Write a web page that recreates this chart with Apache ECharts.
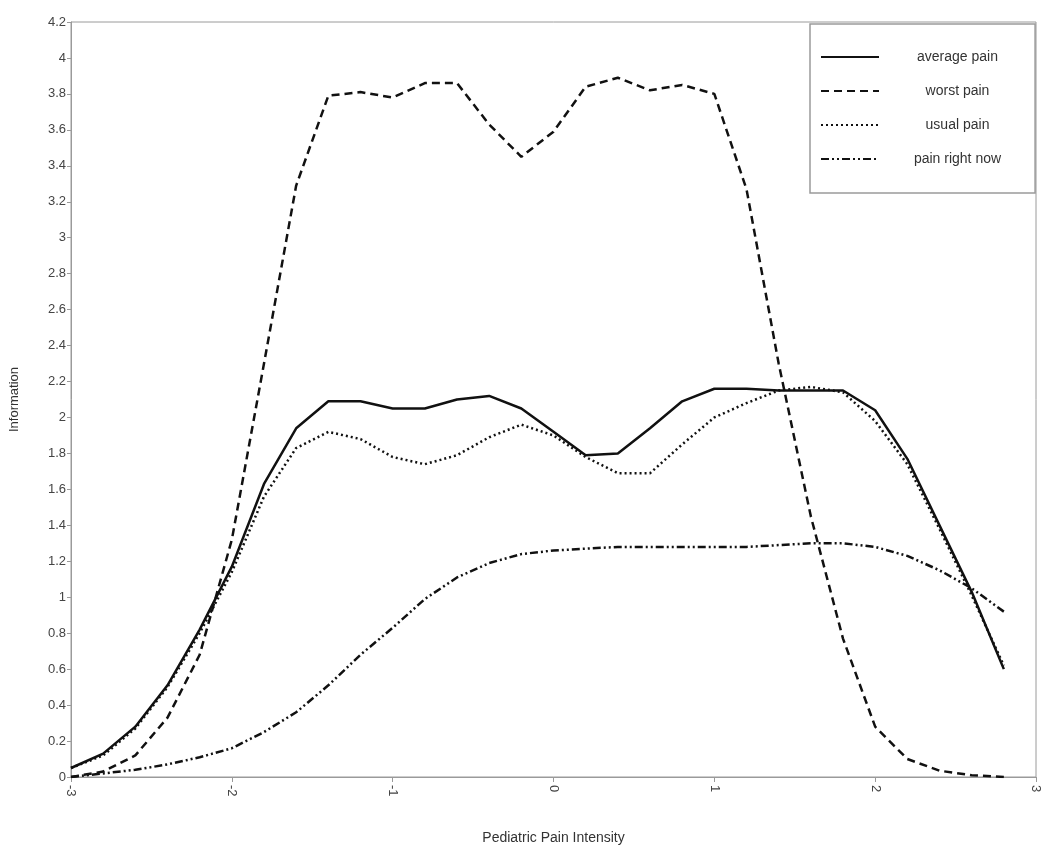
<!DOCTYPE html>
<html>
<head>
<meta charset="utf-8">
<script src="https://cdn.jsdelivr.net/npm/echarts@6/dist/echarts.min.js"></script>
<style>html,body{margin:0;padding:0;background:#fff;}#chart{width:1050px;height:850px;}</style>
</head>
<body>
<div id="chart"></div>
<script>
const xs = [-3,-2.8,-2.6,-2.4,-2.2,-2,-1.8,-1.6,-1.4,-1.2,-1,-0.8,-0.6,-0.4,-0.2,0,0.2,0.4,0.6,0.8,1,1.2,1.4,1.6,1.8,2,2.2,2.4,2.6,2.8];
const averagePain = [0.05,0.13,0.28,0.51,0.82,1.17,1.63,1.94,2.09,2.09,2.05,2.05,2.10,2.12,2.05,1.92,1.79,1.80,1.94,2.09,2.16,2.16,2.15,2.15,2.15,2.04,1.77,1.40,1.03,0.60];
const worstPain = [0.0,0.03,0.12,0.33,0.68,1.32,2.30,3.29,3.79,3.81,3.78,3.86,3.86,3.63,3.45,3.59,3.84,3.89,3.82,3.85,3.80,3.27,2.30,1.45,0.77,0.28,0.10,0.035,0.01,0.0];
const usualPain = [0.05,0.12,0.27,0.50,0.80,1.14,1.56,1.83,1.92,1.88,1.78,1.74,1.79,1.89,1.96,1.90,1.78,1.69,1.69,1.85,2.00,2.08,2.15,2.17,2.14,1.98,1.74,1.38,1.01,0.62];
const painRightNow = [0.0,0.02,0.04,0.07,0.11,0.16,0.25,0.36,0.51,0.68,0.83,0.99,1.11,1.19,1.24,1.26,1.27,1.28,1.28,1.28,1.28,1.28,1.29,1.30,1.30,1.28,1.23,1.15,1.05,0.92];
const seriesNames = ['average pain','worst pain','usual pain','pain right now'];
const xAxisTitle = 'Pediatric Pain Intensity';
const yAxisTitle = 'Information';

const FONT = '"Liberation Sans Narrow", "Liberation Sans", Arial, sans-serif';
const pairs = arr => xs.map((x, i) => [x, arr[i]]);
const lineTypes = ['solid', [8, 5], [2, 3], [8, 3, 2, 3, 2, 3]];
const datasets = [averagePain, worstPain, usualPain, painRightNow];

const chart = echarts.init(document.getElementById('chart'), null, {renderer: 'canvas'});
chart.setOption({
  animation: false,
  backgroundColor: '#fff',
  grid: {left: 67, right: 14, top: 22, bottom: 66, show: true, borderColor: '#9a9a9a', borderWidth: 1},
  legend: {
    orient: 'vertical', left: 810, top: 24,
    padding: [26, 34, 27, 10], itemGap: 20, itemWidth: 58, itemHeight: 14,
    backgroundColor: '#fff', borderColor: '#9a9a9a', borderWidth: 1.5,
    data: seriesNames,
    itemStyle: {opacity: 0},
    formatter: n => '{c|' + n + '}',
    textStyle: {rich: {c: {width: 147, align: 'center', fontSize: 14, fontFamily: FONT, color: '#333'}}}
  },
  xAxis: {
    type: 'value', min: -3, max: 3, interval: 1,
    name: xAxisTitle, nameLocation: 'middle', nameGap: 54,
    nameTextStyle: {fontSize: 14, fontFamily: FONT, color: '#333'},
    axisLine: {onZero: false, lineStyle: {color: '#9a9a9a'}},
    axisTick: {show: true, length: 5, lineStyle: {color: '#9a9a9a'}},
    axisLabel: {rotate: -90, fontSize: 13, fontFamily: FONT, color: '#444', margin: 8},
    splitLine: {show: false}
  },
  yAxis: {
    type: 'value', min: 0, max: 4.2, interval: 0.2,
    name: yAxisTitle, nameLocation: 'middle', nameGap: 50,
    nameTextStyle: {fontSize: 13, fontFamily: FONT, color: '#333'},
    axisLine: {show: true, onZero: false, lineStyle: {color: '#9a9a9a'}},
    axisTick: {show: true, length: 4, lineStyle: {color: '#9a9a9a'}},
    axisLabel: {fontSize: 13, fontFamily: FONT, color: '#444', margin: 5},
    splitLine: {show: false}
  },
  series: seriesNames.map((n, i) => ({
    name: n, type: 'line', data: pairs(datasets[i]),
    showSymbol: false, symbol: 'none', symbolSize: 0,
    lineStyle: {color: '#111', width: 2.5, type: lineTypes[i]},
    itemStyle: {color: '#111'}
  }))
});
</script>
</body>
</html>
